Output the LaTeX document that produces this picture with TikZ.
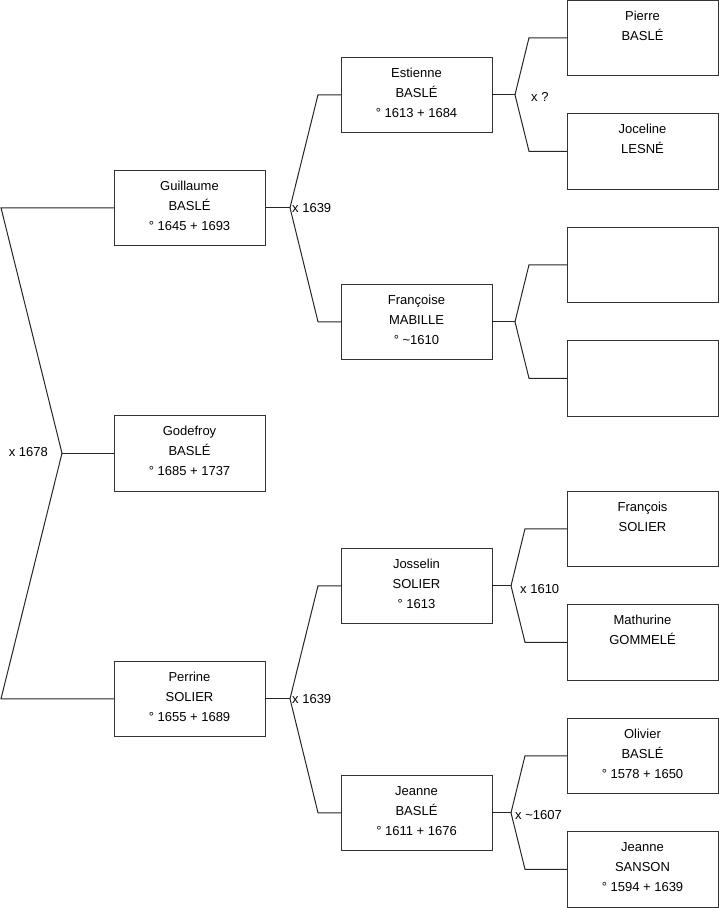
\documentclass[tikz,border=0pt]{standalone}
\usepackage{fontspec}
\setmainfont{Liberation Sans}
\usepackage{tikz}
\usetikzlibrary{positioning,calc}

\begin{document}
\begin{tikzpicture}[x=1pt, y=-1pt,
Pnode/.style={draw=black!80, line width=1pt, outer sep=0pt, minimum width=151pt, minimum height=75.5pt, inner sep=0pt, text depth=4pt, align=center, font=\fontsize{13}{20}\selectfont},
Link/.style={draw=black!85, line width=1pt},
Mlabel/.style={inner sep=0pt, font=\fontsize{13}{16}\selectfont}
]
\useasboundingbox (0,0) rectangle (719,908);
%Nodes
\node[Pnode, anchor=north west] (Guillaume) at (114,170) {Guillaume\\BASLÉ\\° 1645 + 1693};
\node[Pnode, anchor=north west] (Godefroy) at (114,415.5) {Godefroy\\BASLÉ\\° 1685 + 1737};
\node[Pnode, anchor=north west] (Perrine) at (114,661) {Perrine\\SOLIER\\° 1655 + 1689};
\node[Pnode, anchor=north west] (Estienne) at (341,57) {Estienne\\BASLÉ\\° 1613 + 1684};
\node[Pnode, anchor=north west] (Francoise) at (341,284) {Françoise\\MABILLE\\° \textasciitilde1610};
\node[Pnode, anchor=north west] (Josselin) at (341,548) {Josselin\\SOLIER\\° 1613};
\node[Pnode, anchor=north west] (JeanneB) at (341,775) {Jeanne\\BASLÉ\\° 1611 + 1676};
\node[Pnode, anchor=north west] (Pierre) at (567,0) {Pierre\\BASLÉ\\~};
\node[Pnode] (Joceline) [below=38pt of Pierre] {Joceline\\LESNÉ\\~};
\node[Pnode] (E1) [below=38pt of Joceline] {};
\node[Pnode] (E2) [below=38pt of E1] {};
\node[Pnode, anchor=north west] (Francois) at (567,491) {François\\SOLIER\\~};
\node[Pnode] (Mathurine) [below=38pt of Francois] {Mathurine\\GOMMELÉ\\~};
\node[Pnode] (Olivier) [below=38pt of Mathurine] {Olivier\\BASLÉ\\° 1578 + 1650};
\node[Pnode] (JeanneS) [below=38pt of Olivier] {Jeanne\\SANSON\\° 1594 + 1639};
%Vertices
\coordinate (m0) at ($(Godefroy.west)+(-52pt,0)$);
\coordinate (m1) at ($(Guillaume.east)+(25pt,0)$);
\coordinate (m2) at ($(Perrine.east)+(25pt,0)$);
\coordinate (m3) at ($(Estienne.east)+(23pt,0)$);
\coordinate (m4) at ($(Francoise.east)+(23pt,0)$);
\coordinate (m5) at ($(Josselin.east)+(19pt,0)$);
\coordinate (m6) at ($(JeanneB.east)+(19pt,0)$);
%Lines
\draw[Link] (Godefroy.west) -- (m0);
\draw[Link] (m0) -- ([xshift=-113pt]Guillaume.west) -- (Guillaume.west);
\draw[Link] (m0) -- ([xshift=-113pt]Perrine.west) -- (Perrine.west);
\draw[Link] (Guillaume.east) -- (m1);
\draw[Link] (m1) -- ([xshift=-23pt]Estienne.west) -- (Estienne.west);
\draw[Link] (m1) -- ([xshift=-23pt]Francoise.west) -- (Francoise.west);
\draw[Link] (Perrine.east) -- (m2);
\draw[Link] (m2) -- ([xshift=-23pt]Josselin.west) -- (Josselin.west);
\draw[Link] (m2) -- ([xshift=-23pt]JeanneB.west) -- (JeanneB.west);
\draw[Link] (Estienne.east) -- (m3);
\draw[Link] (m3) -- ([xshift=-38pt]Pierre.west) -- (Pierre.west);
\draw[Link] (m3) -- ([xshift=-38pt]Joceline.west) -- (Joceline.west);
\draw[Link] (Francoise.east) -- (m4);
\draw[Link] (m4) -- ([xshift=-38pt]E1.west) -- (E1.west);
\draw[Link] (m4) -- ([xshift=-38pt]E2.west) -- (E2.west);
\draw[Link] (Josselin.east) -- (m5);
\draw[Link] (m5) -- ([xshift=-42pt]Francois.west) -- (Francois.west);
\draw[Link] (m5) -- ([xshift=-42pt]Mathurine.west) -- (Mathurine.west);
\draw[Link] (JeanneB.east) -- (m6);
\draw[Link] (m6) -- ([xshift=-42pt]Olivier.west) -- (Olivier.west);
\draw[Link] (m6) -- ([xshift=-42pt]JeanneS.west) -- (JeanneS.west);
%Labels
\node[Mlabel, anchor=east] (L0) at (48,452) {x 1678};
\node[Mlabel, anchor=west] (L1) at ($(m1)+(2pt,0)$) {x 1639};
\node[Mlabel, anchor=west] (L2) at ($(m2)+(2pt,0)$) {x 1639};
\node[Mlabel, anchor=west] (L3) at ($(m3)+(16pt,-2pt)$) {x ?};
\node[Mlabel, anchor=west] (L5) at ($(m5)+(9pt,-3pt)$) {x 1610};
\node[Mlabel, anchor=west] (L6) at ($(m6)+(4pt,-2pt)$) {x \textasciitilde1607};
\end{tikzpicture}
\end{document}
